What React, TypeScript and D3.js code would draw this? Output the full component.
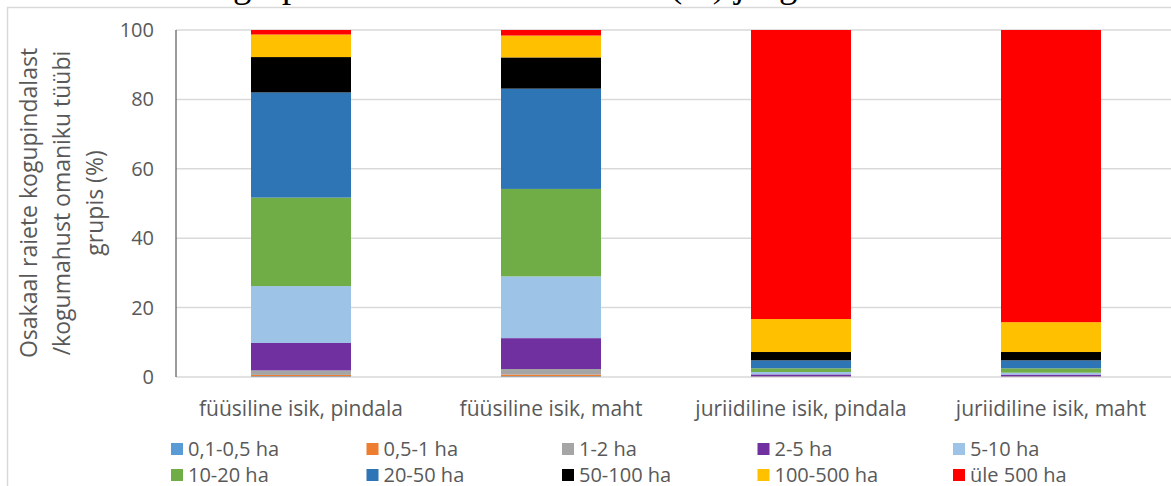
import React from "react";
import * as d3 from "d3";

const categories = [
  "füüsiline isik, pindala",
  "füüsiline isik, maht",
  "juriidiline isik, pindala",
  "juriidiline isik, maht",
];
const seriesNames = [
  "0,1-0,5 ha",
  "0,5-1 ha",
  "1-2 ha",
  "2-5 ha",
  "5-10 ha",
  "10-20 ha",
  "20-50 ha",
  "50-100 ha",
  "100-500 ha",
  "üle 500 ha",
];
const seriesColors = [
  "#5B9BD5",
  "#ED7D31",
  "#A5A5A5",
  "#7030A0",
  "#9DC3E6",
  "#70AD47",
  "#2E75B6",
  "#000000",
  "#FFC000",
  "#FF0000",
];
// values per category (%)
const ha01_05 = [0.2, 0.2, 0.05, 0.05];
const ha05_1 = [0.4, 0.5, 0.05, 0.05];
const ha1_2 = [1.3, 1.6, 0.1, 0.1];
const ha2_5 = [7.9, 8.9, 0.55, 0.5];
const ha5_10 = [16.4, 17.8, 0.7, 0.55];
const ha10_20 = [25.5, 25.2, 1.05, 1.25];
const ha20_50 = [30.3, 28.9, 2.3, 2.3];
const ha50_100 = [10.2, 9.0, 2.4, 2.4];
const ha100_500 = [6.5, 6.3, 9.5, 8.6];
const haOver500 = [1.3, 1.6, 83.3, 84.2];
const seriesValues = [
  ha01_05,
  ha05_1,
  ha1_2,
  ha2_5,
  ha5_10,
  ha10_20,
  ha20_50,
  ha50_100,
  ha100_500,
  haOver500,
];
const yTicks = [0, 20, 40, 60, 80, 100];
const yTitleLines = ["Osakaal raiete kogupindalast", "/kogumahust omaniku tüübi", "grupis (%)"];

const W = 1171;
const H = 486;
const plot = { left: 176, right: 1176, top: 30, bottom: 377 };
const FONT = "'Open Sans', 'Noto Sans', sans-serif";
const TXT = "#595959";

export default function App() {
  const x = d3
    .scaleBand<string>()
    .domain(categories)
    .range([plot.left, plot.right])
    .paddingInner(0.6)
    .paddingOuter(0.3);
  const y = d3.scaleLinear().domain([0, 100]).range([plot.bottom, plot.top]);

  const rows = categories.map((c, i) => {
    const r: any = { cat: c };
    seriesNames.forEach((s, j) => (r[s] = seriesValues[j][i]));
    return r;
  });
  const stacked = d3.stack<any>().keys(seriesNames)(rows);

  const legendX0 = 171;
  const legendStep = 195.5;
  const legendY = [449, 475];

  return (
    <svg
      width={W}
      height={H}
      style={{ position: "absolute", left: 0, top: 0, background: "#fff" }}
    >
      {/* fragment of document heading above the chart */}
      <g fontFamily="'Liberation Serif', 'Times New Roman', serif" fontSize={36.7} fill="#000">
        <text x={233} y={-3}>grupis</text>
        <text x={670} y={-3}>(%) jaoga</text>
      </g>
      {/* chart frame */}
      <rect x={7.5} y={7.5} width={W + 20} height={H + 20} fill="none" stroke="#d9d9d9" strokeWidth={1.5} />

      {/* gridlines */}
      {yTicks.map((t) => (
        <line
          key={t}
          x1={plot.left}
          x2={W}
          y1={y(t)}
          y2={y(t)}
          stroke="#d9d9d9"
          strokeWidth={1.5}
        />
      ))}

      {/* bars */}
      {stacked.map((layer, j) => (
        <g key={layer.key} fill={seriesColors[j]}>
          {layer.map((d, i) => (
            <rect
              key={i}
              x={x(categories[i])}
              width={x.bandwidth()}
              y={y(d[1])}
              height={Math.max(0, y(d[0]) - y(d[1]))}
            />
          ))}
        </g>
      ))}

      {/* y axis line */}
      <line x1={plot.left} x2={plot.left} y1={plot.top} y2={plot.bottom} stroke="#595959" strokeWidth={1.2} />

      {/* y tick labels */}
      <g fontFamily={FONT} fontSize={20} fill={TXT} textAnchor="end">
        {yTicks.map((t) => (
          <text key={t} x={154} y={y(t)} dy="0.35em">
            {t}
          </text>
        ))}
      </g>

      {/* x labels */}
      <g fontFamily={FONT} fontSize={21} fill={TXT} textAnchor="middle">
        {categories.map((c) => (
          <text key={c} x={(x(c) as number) + x.bandwidth() / 2} y={416}>
            {c}
          </text>
        ))}
      </g>

      {/* y title */}
      <g fontFamily={FONT} fontSize={23} fill={TXT} textAnchor="middle">
        {yTitleLines.map((l, i) => (
          <text key={i} transform={`translate(${37 + i * 33},${203}) rotate(-90)`}>
            {l}
          </text>
        ))}
      </g>

      {/* legend */}
      <g fontFamily={FONT} fontSize={20} fill={TXT}>
        {seriesNames.map((s, i) => {
          const col = i % 5;
          const row = Math.floor(i / 5);
          const lx = legendX0 + col * legendStep;
          const ly = legendY[row];
          return (
            <g key={s}>
              <rect x={lx} y={ly - 6} width={12} height={12} fill={seriesColors[i]} />
              <text x={lx + 17} y={ly} dy="0.35em">
                {s}
              </text>
            </g>
          );
        })}
      </g>
    </svg>
  );
}
